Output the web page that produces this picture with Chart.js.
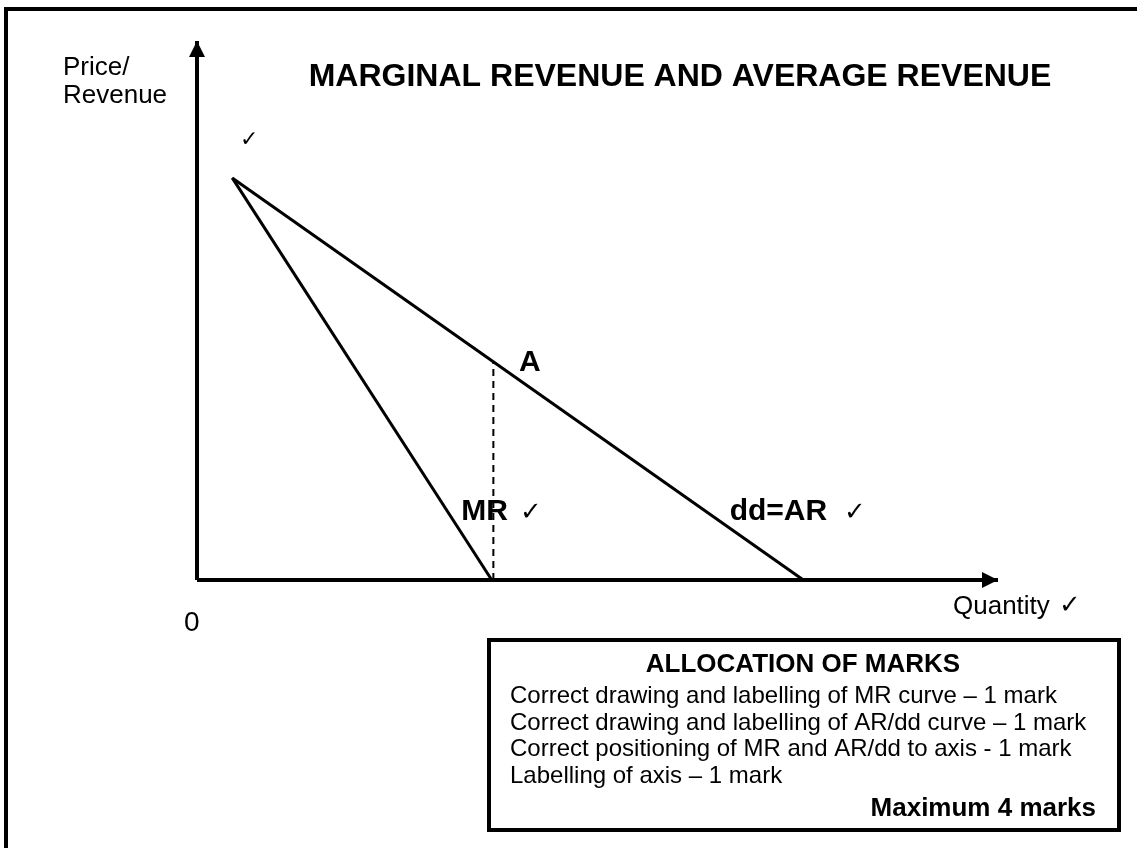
<!DOCTYPE html>
<html>
<head>
<meta charset="utf-8">
<script src="https://cdn.jsdelivr.net/npm/chart.js@4.4.1/dist/chart.umd.min.js"></script>
<style>
    html, body { margin: 0; padding: 0; background: #fff; }
    #wrap { position: relative; width: 1137px; height: 848px; }
</style>
</head>
<body>
<div id="wrap"><canvas id="revenueChart" width="1137" height="848"></canvas></div>
<script>
// curve end points (quantity, price) in chart units, axes run 0..100
const arQty = [4.4, 75.7];
const arPrice = [74.6, 0];
const mrQty = [4.4, 36.8];
const mrPrice = [74.6, 0];
const dropQty = [37.0, 37.0];
const dropPrice = [0, 40.5];
const axisMax = 100;

const chartTitle = 'MARGINAL REVENUE AND AVERAGE REVENUE';
const yAxisLabel = ['Price/', 'Revenue'];
const xAxisLabel = 'Quantity';
const tick = '\u2713';
const marksTitle = 'ALLOCATION OF MARKS';
const marksLines = [
    'Correct drawing and labelling of MR curve \u2013 1 mark',
    'Correct drawing and labelling of AR/dd curve \u2013 1 mark',
    'Correct positioning of MR and AR/dd to axis - 1 mark',
    'Labelling of axis \u2013 1 mark'
];
const marksTotal = 'Maximum 4 marks';

const FONT = '"Liberation Sans", Arial, sans-serif';
const TICK_FONT = '"DejaVu Sans", sans-serif';

function toPoints(xs, ys) {
    return xs.map((x, i) => ({ x: x, y: ys[i] }));
}

const drawingPlugin = {
    id: 'drawing',
    afterDatasetsDraw(chart) {
        const ctx = chart.ctx;
        const x = chart.scales.x;
        const y = chart.scales.y;
        const x0 = x.getPixelForValue(0);
        const y0 = y.getPixelForValue(0);
        const xEnd = x.getPixelForValue(axisMax);
        const yEnd = y.getPixelForValue(axisMax);

        ctx.save();
        ctx.fillStyle = '#000';
        ctx.strokeStyle = '#000';

        // outer frame
        ctx.lineWidth = 4;
        ctx.beginPath();
        ctx.moveTo(6, 860);
        ctx.lineTo(6, 9);
        ctx.lineTo(1150, 9);
        ctx.stroke();

        // arrow heads
        ctx.beginPath();
        ctx.moveTo(x0, yEnd);
        ctx.lineTo(x0 - 8, yEnd + 16);
        ctx.lineTo(x0 + 8, yEnd + 16);
        ctx.closePath();
        ctx.fill();
        ctx.beginPath();
        ctx.moveTo(xEnd, y0);
        ctx.lineTo(xEnd - 16, y0 - 8);
        ctx.lineTo(xEnd - 16, y0 + 8);
        ctx.closePath();
        ctx.fill();

        ctx.textBaseline = 'alphabetic';

        // title
        ctx.font = 'bold 32px ' + FONT;
        ctx.textAlign = 'center';
        ctx.fillText(chartTitle, 680, 86);

        // axis labels
        ctx.textAlign = 'left';
        ctx.font = '26px ' + FONT;
        ctx.fillText(yAxisLabel[0], 63, 75);
        ctx.fillText(yAxisLabel[1], 63, 103);
        ctx.fillText(xAxisLabel, 953, 614);
        ctx.font = '28px ' + FONT;
        ctx.fillText('0', 184, 631);

        // curve labels
        ctx.font = 'bold 30px ' + FONT;
        ctx.fillText('A', x.getPixelForValue(40.2), y.getPixelForValue(38.8));
        ctx.fillText('MR', x.getPixelForValue(33.0), y.getPixelForValue(11.1));
        ctx.fillText('dd=AR', x.getPixelForValue(66.5), y.getPixelForValue(11.1));

        // ticks
        ctx.font = '22px ' + TICK_FONT;
        ctx.fillText(tick, 240, 146);
        ctx.font = '26px ' + TICK_FONT;
        ctx.fillText(tick, 520, 520);
        ctx.fillText(tick, 844, 520);
        ctx.fillText(tick, 1059, 613);

        // allocation of marks box
        ctx.lineWidth = 4;
        ctx.strokeRect(489, 640, 630, 190);
        ctx.textAlign = 'center';
        ctx.font = 'bold 26px ' + FONT;
        ctx.fillText(marksTitle, 803, 672);
        ctx.textAlign = 'left';
        ctx.font = '24px ' + FONT;
        marksLines.forEach((line, i) => {
            ctx.fillText(line, 510, 703 + i * 26.7);
        });
        ctx.textAlign = 'right';
        ctx.font = 'bold 26px ' + FONT;
        ctx.fillText(marksTotal, 1096, 816);

        ctx.restore();
    }
};

const lineStyle = {
    borderColor: '#000',
    backgroundColor: '#000',
    pointRadius: 0,
    showLine: true,
    fill: false,
    clip: false
};

new Chart(document.getElementById('revenueChart'), {
    type: 'scatter',
    data: {
        datasets: [
            Object.assign({ label: 'Price axis', data: toPoints([0, 0], [0, axisMax]), borderWidth: 4 }, lineStyle),
            Object.assign({ label: 'Quantity axis', data: toPoints([0, axisMax], [0, 0]), borderWidth: 4 }, lineStyle),
            Object.assign({ label: 'dd=AR', data: toPoints(arQty, arPrice), borderWidth: 3 }, lineStyle),
            Object.assign({ label: 'MR', data: toPoints(mrQty, mrPrice), borderWidth: 3 }, lineStyle),
            Object.assign({ label: 'A', data: toPoints(dropQty, dropPrice), borderWidth: 2, borderDash: [7, 5] }, lineStyle)
        ]
    },
    options: {
        responsive: false,
        animation: false,
        events: [],
        layout: {
            padding: { left: 197, right: 139, top: 41, bottom: 268 }
        },
        plugins: {
            legend: { display: false },
            tooltip: { enabled: false },
            title: { display: false }
        },
        scales: {
            x: { type: 'linear', min: 0, max: axisMax, display: false },
            y: { type: 'linear', min: 0, max: axisMax, display: false }
        }
    },
    plugins: [drawingPlugin]
});
</script>
</body>
</html>
